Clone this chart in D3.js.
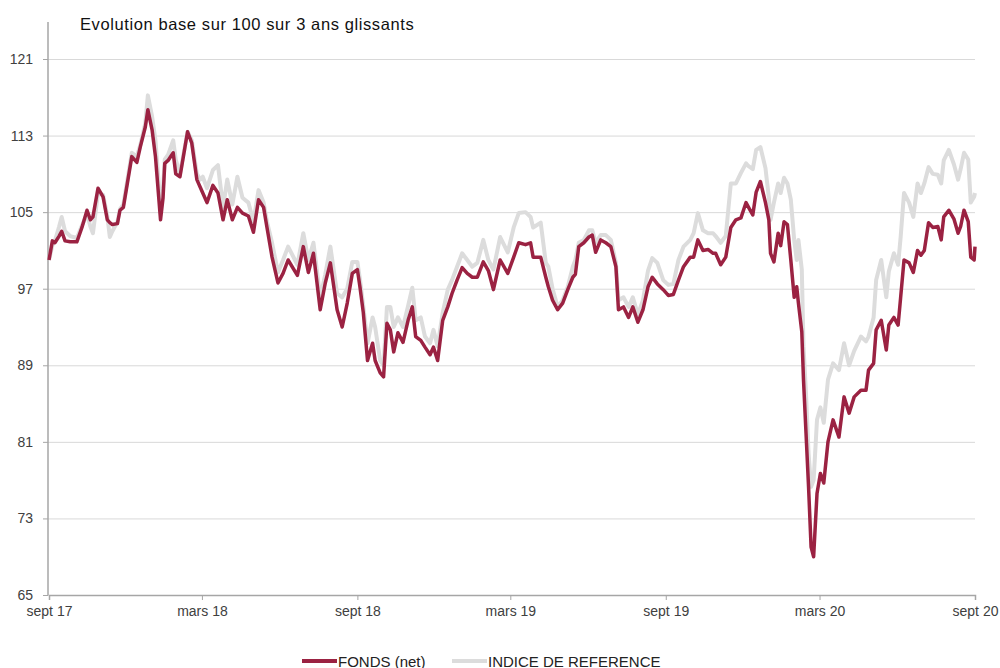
<!DOCTYPE html>
<html><head><meta charset="utf-8">
<script src="https://cdn.jsdelivr.net/npm/d3@7"></script>
<style>
html,body{margin:0;padding:0;background:#fff;}
svg{display:block;font-family:"Liberation Sans",Arial,sans-serif;}
</style></head>
<body>
<svg id="chart" width="1000" height="668"></svg>
<script>
const title = "Evolution base sur 100 sur 3 ans glissants";
const seriesNames = ["FONDS (net)", "INDICE DE REFERENCE"];
const yTicks = [65, 73, 81, 89, 97, 105, 113, 121];
const xTickDates = ["2017-09-01","2018-03-01","2018-09-01","2019-03-01","2019-09-01","2020-03-01","2020-09-01"];
const xTickLabels = ["sept 17","mars 18","sept 18","mars 19","sept 19","mars 20","sept 20"];

const dates = [
"2017-09-01","2017-09-05","2017-09-08","2017-09-13","2017-09-16","2017-09-20","2017-09-26","2017-10-04","2017-10-10","2017-10-16",
"2017-10-20","2017-10-23","2017-10-29","2017-11-04","2017-11-09","2017-11-12","2017-11-15","2017-11-21","2017-11-24","2017-11-28",
"2017-12-08","2017-12-14","2017-12-18","2017-12-24","2017-12-27","2018-01-01","2018-01-05","2018-01-11","2018-01-14","2018-01-16",
"2018-01-20","2018-01-26","2018-01-29","2018-02-03","2018-02-12","2018-02-17","2018-02-23","2018-02-27","2018-03-02","2018-03-07",
"2018-03-14","2018-03-20","2018-03-26","2018-03-31","2018-04-06","2018-04-12","2018-04-18","2018-04-25","2018-05-01","2018-05-07",
"2018-05-13","2018-05-17","2018-05-23","2018-05-30","2018-06-05","2018-06-11","2018-06-22","2018-06-29","2018-07-05","2018-07-11",
"2018-07-19","2018-07-25","2018-07-31","2018-08-08","2018-08-14","2018-08-20","2018-08-26","2018-09-01","2018-09-04","2018-09-08",
"2018-09-13","2018-09-19","2018-09-22","2018-09-28","2018-10-02","2018-10-06","2018-10-10","2018-10-14","2018-10-19","2018-10-25",
"2018-10-31","2018-11-05","2018-11-09","2018-11-15","2018-11-20","2018-11-26","2018-11-30","2018-12-05","2018-12-11","2018-12-17",
"2018-12-22","2018-12-28","2019-01-03","2019-01-09","2019-01-15","2019-01-21","2019-01-28","2019-02-03","2019-02-09","2019-02-17",
"2019-02-26","2019-03-05","2019-03-11","2019-03-19","2019-03-25","2019-03-28","2019-04-06","2019-04-12","2019-04-15","2019-04-20",
"2019-04-26","2019-05-02","2019-05-08","2019-05-14","2019-05-17","2019-05-21","2019-05-27","2019-06-02","2019-06-06","2019-06-10",
"2019-06-16","2019-06-22","2019-06-28","2019-07-04","2019-07-07","2019-07-13","2019-07-19","2019-07-24","2019-07-30","2019-08-05",
"2019-08-11","2019-08-16","2019-08-22","2019-08-29","2019-09-04","2019-09-10","2019-09-16","2019-09-22","2019-09-30","2019-10-04",
"2019-10-09","2019-10-15","2019-10-21","2019-10-27","2019-10-30","2019-11-05","2019-11-11","2019-11-17","2019-11-23","2019-11-29",
"2019-12-05","2019-12-08","2019-12-13","2019-12-17","2019-12-22","2019-12-28","2020-01-01","2020-01-03","2020-01-07","2020-01-12",
"2020-01-15","2020-01-19","2020-01-23","2020-01-27","2020-01-31","2020-02-03","2020-02-05","2020-02-09","2020-02-11","2020-02-14",
"2020-02-17","2020-02-20","2020-02-23","2020-02-27","2020-03-02","2020-03-06","2020-03-11","2020-03-17","2020-03-24","2020-03-30",
"2020-04-05","2020-04-11","2020-04-19","2020-04-25","2020-04-28","2020-05-04","2020-05-07","2020-05-13","2020-05-19","2020-05-22",
"2020-05-28","2020-06-02","2020-06-05","2020-06-09","2020-06-15","2020-06-20","2020-06-25","2020-06-29","2020-07-03","2020-07-08",
"2020-07-13","2020-07-19","2020-07-23","2020-07-26","2020-08-01","2020-08-07","2020-08-12","2020-08-15","2020-08-19","2020-08-24",
"2020-08-27","2020-08-31","2020-09-01"];

const fund = [
100.0,102.0,101.8,102.5,103.0,102.0,101.9,101.9,103.4,105.2,
104.2,104.5,107.5,106.6,104.2,103.9,103.7,103.8,105.2,105.5,
110.8,110.2,111.8,113.9,115.7,113.6,110.8,104.2,106.5,110.1,
110.4,111.2,109.0,108.7,113.4,112.2,108.4,107.6,107.0,106.0,
107.8,107.0,104.2,106.3,104.2,105.5,104.9,104.6,102.9,106.3,
105.5,103.4,100.3,97.6,98.6,100.0,98.4,101.4,98.7,100.7,
94.8,97.6,99.7,94.8,93.0,95.5,98.6,99.0,97.2,94.5,
89.5,91.3,89.5,88.2,87.8,93.4,92.7,90.4,92.4,91.4,
93.7,95.1,92.0,91.6,90.9,90.1,90.9,89.5,93.7,95.1,
96.5,97.9,99.2,98.6,98.2,98.2,99.8,98.9,96.9,100.0,
98.6,100.3,101.8,101.6,101.8,100.3,100.3,98.2,97.2,95.8,
94.8,95.5,96.9,98.2,98.5,101.4,101.8,102.4,102.6,100.8,
102.1,101.8,101.4,99.3,94.8,95.1,94.0,95.1,93.5,94.8,
97.2,98.2,97.5,96.9,96.3,96.4,97.9,99.3,100.3,100.3,
102.1,101.0,101.1,100.7,100.7,99.5,100.3,103.4,104.2,104.4,
106.0,105.5,104.7,107.1,108.2,106.0,104.2,100.7,99.8,102.8,
101.5,104.0,103.7,100.0,96.1,97.2,95.5,92.5,87.5,81.9,
76.3,70.0,69.0,75.6,77.7,76.7,81.0,83.3,81.5,85.7,
84.0,85.7,86.4,86.4,88.5,89.2,92.7,93.7,90.6,93.2,
94.0,93.2,96.1,100.0,99.7,98.7,101.0,100.5,101.0,103.9,
103.4,103.5,102.1,104.5,105.2,104.3,102.8,103.5,105.2,104.0,
100.3,100.0,101.4];

const benchmark = [
100.0,101.5,102.0,103.5,104.5,103.0,102.5,102.3,103.6,104.8,
103.5,102.8,107.0,106.8,104.6,102.4,103.0,104.0,105.3,105.8,
111.2,110.8,112.0,114.3,117.2,115.0,112.5,105.5,107.5,110.5,
111.0,112.5,110.5,109.0,113.4,112.5,109.0,108.4,108.7,107.5,
109.4,109.9,105.5,108.4,105.8,108.7,106.5,106.0,104.0,107.3,
106.0,104.0,101.8,98.7,100.0,101.4,99.5,102.8,100.0,101.8,
96.1,98.5,101.4,96.5,96.1,97.0,99.8,99.8,98.0,95.2,
91.3,94.0,93.0,89.5,89.0,95.1,95.1,93.0,94.0,93.0,
95.2,97.1,93.7,94.0,92.0,91.3,92.7,91.0,94.5,96.9,
97.9,99.3,100.7,100.0,99.3,99.7,102.1,100.0,99.0,102.4,
100.8,103.4,104.9,105.0,104.5,103.4,103.9,99.7,99.3,97.0,
95.1,95.8,97.2,99.3,100.0,101.8,102.1,103.1,103.1,101.8,
102.6,102.6,102.1,99.7,95.8,96.1,95.1,96.1,94.3,95.8,
98.9,100.2,99.7,97.9,97.4,97.5,100.0,101.4,102.1,102.8,
104.9,103.1,102.8,102.8,102.5,101.8,102.5,108.0,108.0,109.1,
110.1,109.8,109.5,111.5,111.8,109.6,106.5,104.2,106.0,108.0,
107.0,108.6,108.0,106.3,102.1,100.0,102.1,99.0,91.0,86.0,
79.8,76.3,77.0,83.3,84.6,83.0,87.5,89.2,88.5,91.3,
89.0,90.5,92.0,91.5,92.0,94.0,97.9,100.0,96.1,98.8,
100.7,99.5,102.4,107.0,106.0,104.5,108.0,107.0,108.0,109.7,
109.0,108.9,108.0,110.4,111.5,110.0,108.4,109.5,111.2,110.5,
106.0,106.6,107.0];

const parse = d3.timeParse("%Y-%m-%d");
const data = dates.map((d, i) => ({date: parse(d), fund: fund[i], bench: benchmark[i]}));

const svg = d3.select("#chart");
const M = {left: 48, right: 975, top: 59, bottom: 595};

const x = d3.scaleTime()
  .domain([parse(dates[0]), parse(dates[dates.length - 1])])
  .range([M.left + 1, M.right]);
const y = d3.scaleLinear().domain([65, 121]).range([M.bottom, M.top]);

// gridlines
svg.append("g")
  .attr("transform", `translate(${M.left},0)`)
  .call(d3.axisLeft(y).tickValues(yTicks).tickSize(-(M.right - M.left)).tickFormat(""))
  .call(g => g.select(".domain").remove())
  .call(g => g.selectAll("line").attr("stroke", "#d9d9d9").attr("stroke-width", 1));

// y axis
svg.append("g")
  .attr("transform", `translate(${M.left},0)`)
  .call(d3.axisLeft(y).tickValues(yTicks).tickSize(5).tickPadding(10).tickFormat(d3.format("d")))
  .call(g => g.select(".domain").remove())
  .call(g => g.selectAll("line").attr("stroke", "#a6a6a6"))
  .call(g => g.selectAll("text").attr("fill", "#404040").attr("font-size", 14));

svg.append("line")
  .attr("x1", M.left).attr("x2", M.left)
  .attr("y1", 22).attr("y2", y(65))
  .attr("stroke", "#a6a6a6").attr("stroke-width", 1.5);

// x axis
svg.append("g")
  .attr("transform", `translate(0,${M.bottom})`)
  .call(d3.axisBottom(x).tickValues(xTickDates.map(parse)).tickSize(5).tickPadding(6)
    .tickFormat((d, i) => xTickLabels[i]))
  .call(g => g.select(".domain").attr("stroke", "#a6a6a6").attr("stroke-width", 1.5))
  .call(g => g.selectAll("line").attr("stroke", "#a6a6a6"))
  .call(g => g.selectAll("text").attr("fill", "#404040").attr("font-size", 14));

// lines
const lineB = d3.line().x(d => x(d.date)).y(d => y(d.bench));
const lineF = d3.line().x(d => x(d.date)).y(d => y(d.fund));
svg.append("path").datum(data).attr("d", lineB)
  .attr("fill", "none").attr("stroke", "#dcdcdc").attr("stroke-width", 4).attr("stroke-linejoin", "round");
svg.append("path").datum(data).attr("d", lineF)
  .attr("fill", "none").attr("stroke", "#9b2242").attr("stroke-width", 3.5).attr("stroke-linejoin", "round");

// title
svg.append("text").attr("x", 80).attr("y", 30).text(title)
  .attr("font-size", 16.5).attr("letter-spacing", 0.6).attr("fill", "#111");

// legend
const colors = ["#9b2242", "#dcdcdc"];
const legX = [302, 452];
seriesNames.forEach((n, i) => {
  const g = svg.append("g").attr("transform", `translate(${legX[i]},661)`);
  g.append("line").attr("x1", 0).attr("x2", 35).attr("y1", 0).attr("y2", 0)
    .attr("stroke", colors[i]).attr("stroke-width", 4);
  g.append("text").attr("x", 36).attr("y", 5.5).text(n)
    .attr("font-size", 15).attr("fill", "#222");
});
</script>
</body></html>
